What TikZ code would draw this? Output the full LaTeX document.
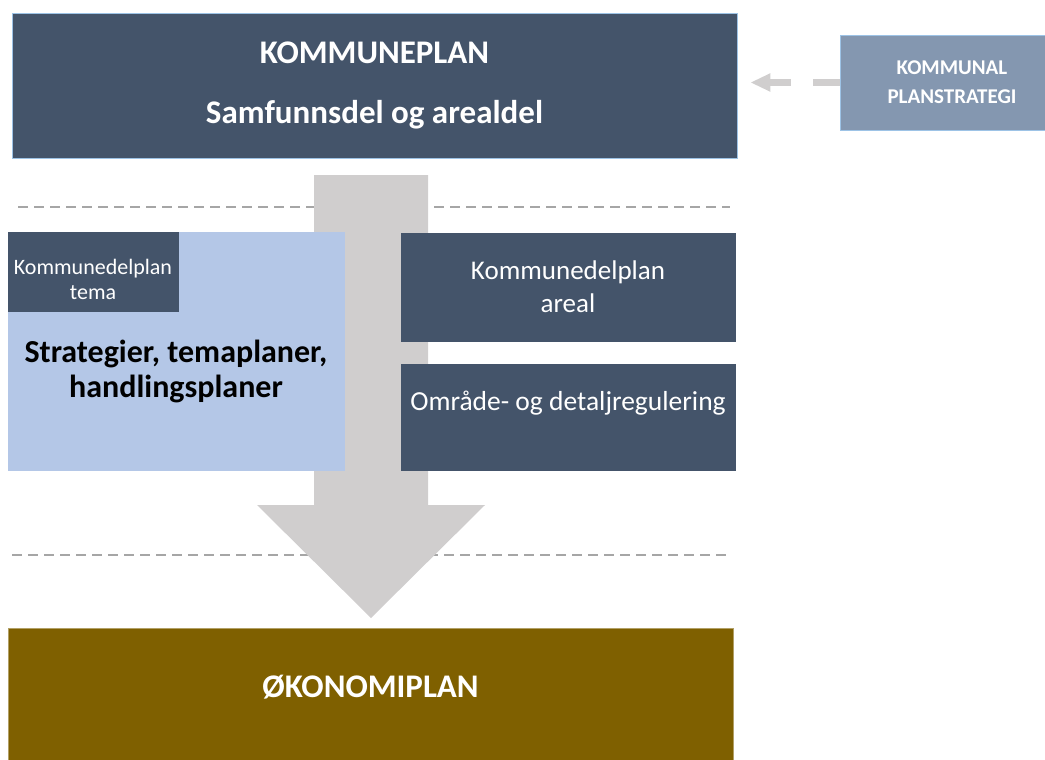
\documentclass[tikz,border=0pt]{standalone}
\usepackage{fontspec}
\setmainfont{Carlito}
\usetikzlibrary{arrows.meta}

\definecolor{slate}{HTML}{44546A}
\definecolor{slatelight}{HTML}{8497B0}
\definecolor{paleblue}{HTML}{B4C7E7}
\definecolor{edgeblue}{HTML}{9DC3E6}
\definecolor{arrowgray}{HTML}{D0CECE}
\definecolor{sepgray}{HTML}{A6A6A6}
\definecolor{ochre}{HTML}{7F6000}

\tikzset{
  sepline/.style={draw=sepgray, line width=2pt, dash pattern=on 10pt off 6pt},
  dasharrow/.style={draw=arrowgray, line width=7pt, dash pattern=on 27pt off 22pt,
    -{Triangle[length=20pt,width=17pt]}, shorten >=13pt}
}

\begin{document}
\begin{tikzpicture}[x=1pt,y=-1pt]
        \clip (0,0) rectangle (1045,760);

        \draw[sepline] (18,207) -- (730,207);
        \draw[sepline] (12,555) -- (730,555);

        \fill[arrowgray] (314,175) -- (428,175) -- (428,505) -- (485,505)
          -- (371,618) -- (257,505) -- (314,505) -- cycle;

        \begin{scope}[every node/.style={rectangle, draw=edgeblue, line width=.8pt,
            fill=slate, text=white, inner sep=0pt, align=center}]
          \node (1) at (374.5,85.5) [minimum width=725, minimum height=145,
            font=\fontsize{33}{60}\selectfont\bfseries] {KOMMUNEPLAN\\Samfunnsdel og arealdel};
          \node (2) at (952,82.5) [fill=slatelight, minimum width=224, minimum height=95,
            font=\fontsize{21}{29}\selectfont\bfseries] {KOMMUNAL\\PLANSTRATEGI};
          \node (3) at (176,351) [fill=paleblue, draw=paleblue, minimum width=336,
            minimum height=238] {};
          \node (4) at (93,271.5) [draw=slate, minimum width=170, minimum height=79] {};
          \node (5) at (568,287) [draw=slate, minimum width=334, minimum height=108,
            font=\fontsize{27}{33}\selectfont] {Kommunedelplan\\areal};
          \node (6) at (568,417) [draw=slate, minimum width=334, minimum height=106] {};
          \node (7) at (370.5,694) [fill=ochre, draw=ochre!60!white, minimum width=725,
            minimum height=132] {};
        \end{scope}

        \begin{scope}[every node/.style={text=white, inner sep=0pt, align=center}]
          \node (3t) at (176,371) [text=black, font=\fontsize{32}{35}\selectfont\bfseries]
            {Strategier, temaplaner,\\handlingsplaner};
          \node (4t) at (93,279.5) [font=\fontsize{22}{25}\selectfont] {Kommunedelplan\\tema};
          \node (6t) at (568,403) [font=\fontsize{27.5}{33}\selectfont] {Område- og detaljregulering};
          \node (7t) at (370.5,687) [font=\fontsize{33}{40}\selectfont\bfseries] {ØKONOMIPLAN};
        \end{scope}

        \draw[dasharrow] (2.west) -- (2.west -| 1.east);

      \end{tikzpicture}
\end{document}
